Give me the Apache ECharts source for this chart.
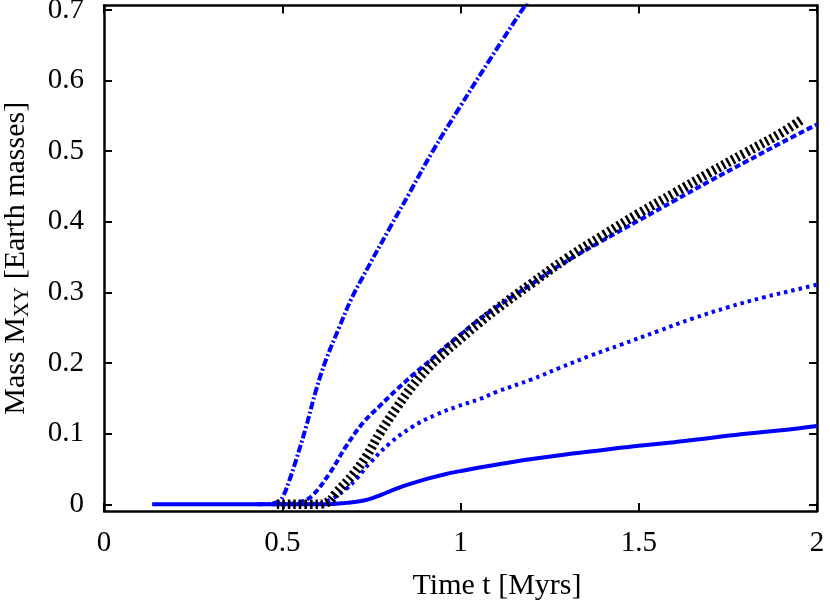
<!DOCTYPE html>
<html>
<head>
<meta charset="utf-8">
<script src="https://cdn.jsdelivr.net/npm/echarts@6/dist/echarts.min.js"></script>
<style>
  html, body { margin: 0; padding: 0; background: #fff; }
  #chart { width: 830px; height: 607px; }
</style>
</head>
<body>
<div id="chart"></div>
<script>
// tick values
const xTicks = [0, 0.5, 1, 1.5, 2];
const yTicks = [0, 0.1, 0.2, 0.3, 0.4, 0.5, 0.6, 0.7];

// curves: [time, mass]
const solidLine = [[0.135, 0], [0.3, 0], [0.5, 0], [0.62, 0], [0.68, 0.002], [0.726, 0.005],
  [0.76, 0.01], [0.79, 0.016], [0.83, 0.024], [0.866, 0.03], [0.913, 0.037], [0.96, 0.043],
  [1.0, 0.047], [1.053, 0.052], [1.1, 0.056], [1.2, 0.064], [1.3, 0.071], [1.4, 0.077],
  [1.5, 0.083], [1.6, 0.088], [1.7, 0.094], [1.8, 0.1], [1.9, 0.105], [2.0, 0.111]];

const dottedLine = [[0.5, 0], [0.6, 0.001], [0.64, 0.008], [0.68, 0.022], [0.71, 0.037],
  [0.745, 0.058], [0.801, 0.086], [0.866, 0.11], [0.932, 0.127], [0.988, 0.138], [1.053, 0.149],
  [1.1, 0.159], [1.2, 0.177], [1.277, 0.193], [1.362, 0.21], [1.45, 0.226], [1.558, 0.246],
  [1.651, 0.263], [1.75, 0.279], [1.85, 0.293], [1.95, 0.305], [2.0, 0.311]];

const dashedLine = [[0.47, 0], [0.53, 0.001], [0.56, 0.005], [0.586, 0.013], [0.633, 0.044],
  [0.679, 0.082], [0.726, 0.115], [0.773, 0.139], [0.82, 0.162], [0.866, 0.183], [0.913, 0.203],
  [0.96, 0.224], [1.006, 0.243], [1.053, 0.262], [1.1, 0.279], [1.2, 0.312], [1.277, 0.338],
  [1.39, 0.371], [1.5, 0.402], [1.6, 0.43], [1.7, 0.458], [1.8, 0.485], [1.9, 0.512], [2.0, 0.538]];

const dashDotLine = [[0.43, 0], [0.47, 0.001], [0.49, 0.004], [0.502, 0.011], [0.52, 0.034],
  [0.539, 0.063], [0.567, 0.11], [0.595, 0.162], [0.623, 0.205], [0.661, 0.252], [0.693, 0.29],
  [0.726, 0.322], [0.8, 0.39], [0.857, 0.441], [0.922, 0.5], [1.0, 0.564], [1.08, 0.628],
  [1.17, 0.698], [1.2, 0.72]];

const blackLine = [[0.485, 0], [0.6, 0], [0.63, 0.004], [0.651, 0.016], [0.698, 0.042],
  [0.736, 0.068], [0.773, 0.1], [0.82, 0.136], [0.866, 0.168], [0.913, 0.195], [0.96, 0.217],
  [1.006, 0.237], [1.05, 0.256], [1.1, 0.276], [1.2, 0.313], [1.3, 0.349], [1.4, 0.381],
  [1.5, 0.412], [1.6, 0.441], [1.7, 0.47], [1.8, 0.498], [1.9, 0.526], [1.955, 0.544]];

const FONT = "'Liberation Serif', 'DejaVu Serif', serif";
const BLUE = '#0000ff';

const chart = echarts.init(document.getElementById('chart'), null, { renderer: 'canvas' });

const axisLine = { show: true, onZero: false, lineStyle: { color: '#000', width: 2.5 } };
const tick = { show: true, inside: true, length: 8, lineStyle: { color: '#000', width: 2 } };

function xAxisDef(pos, labels) {
  return {
    type: 'value', position: pos, min: 0, max: 2, interval: 0.5,
    axisLine: axisLine,
    axisTick: tick,
    splitLine: { show: false },
    axisLabel: {
      show: labels, margin: 18, color: '#000', fontFamily: FONT, fontSize: 29,
      formatter: v => String(v)
    }
  };
}

function yAxisDef(pos, labels) {
  return {
    type: 'value', position: pos, min: -0.0095, max: 0.7064,
    axisLine: axisLine,
    axisTick: Object.assign({ customValues: yTicks }, tick),
    splitLine: { show: false },
    axisLabel: {
      show: labels, customValues: yTicks, margin: 20, color: '#000', fontFamily: FONT, fontSize: 29,
      formatter: v => String(v)
    }
  };
}

const xBottom = xAxisDef('bottom', true);
xBottom.name = 'Time t [Myrs]';
xBottom.nameLocation = 'middle';
xBottom.nameGap = 60;
xBottom.nameTextStyle = { color: '#000', fontFamily: FONT, fontSize: 30, padding: [0, 0, 0, 73] };

const yLeft = yAxisDef('left', true);
yLeft.name = 'Mass M{sub|XY} [Earth masses]';
yLeft.nameLocation = 'middle';
yLeft.nameGap = 71;
yLeft.nameTextStyle = {
  color: '#000', fontFamily: FONT, fontSize: 30, lineHeight: 34,
  rich: { sub: { fontFamily: FONT, fontSize: 21, lineHeight: 16, verticalAlign: 'bottom', color: '#000' } }
};

function lineSeries(data, width, type, color) {
  return {
    type: 'line', data: data, showSymbol: false, smooth: 0.4, clip: true,
    lineStyle: { color: color, width: width, type: type, cap: 'butt' }
  };
}

chart.setOption({
  animation: false,
  backgroundColor: '#fff',
  grid: { left: 104, right: 13, top: 5.5, bottom: 96, containLabel: false, outerBoundsMode: 'none' },
  xAxis: [xBottom, xAxisDef('top', false)],
  yAxis: [yLeft, yAxisDef('right', false)],
  series: [
    lineSeries(solidLine, 4, 'solid', BLUE),
    lineSeries(dottedLine, 4, [3.5, 4], BLUE),
    lineSeries(dashedLine, 4, [6, 3], BLUE),
    lineSeries(dashDotLine, 4, [8, 2.5, 2, 2.5], BLUE),
    lineSeries(blackLine, 9.5, [2.5, 3], '#000')
  ]
});
</script>
</body>
</html>
